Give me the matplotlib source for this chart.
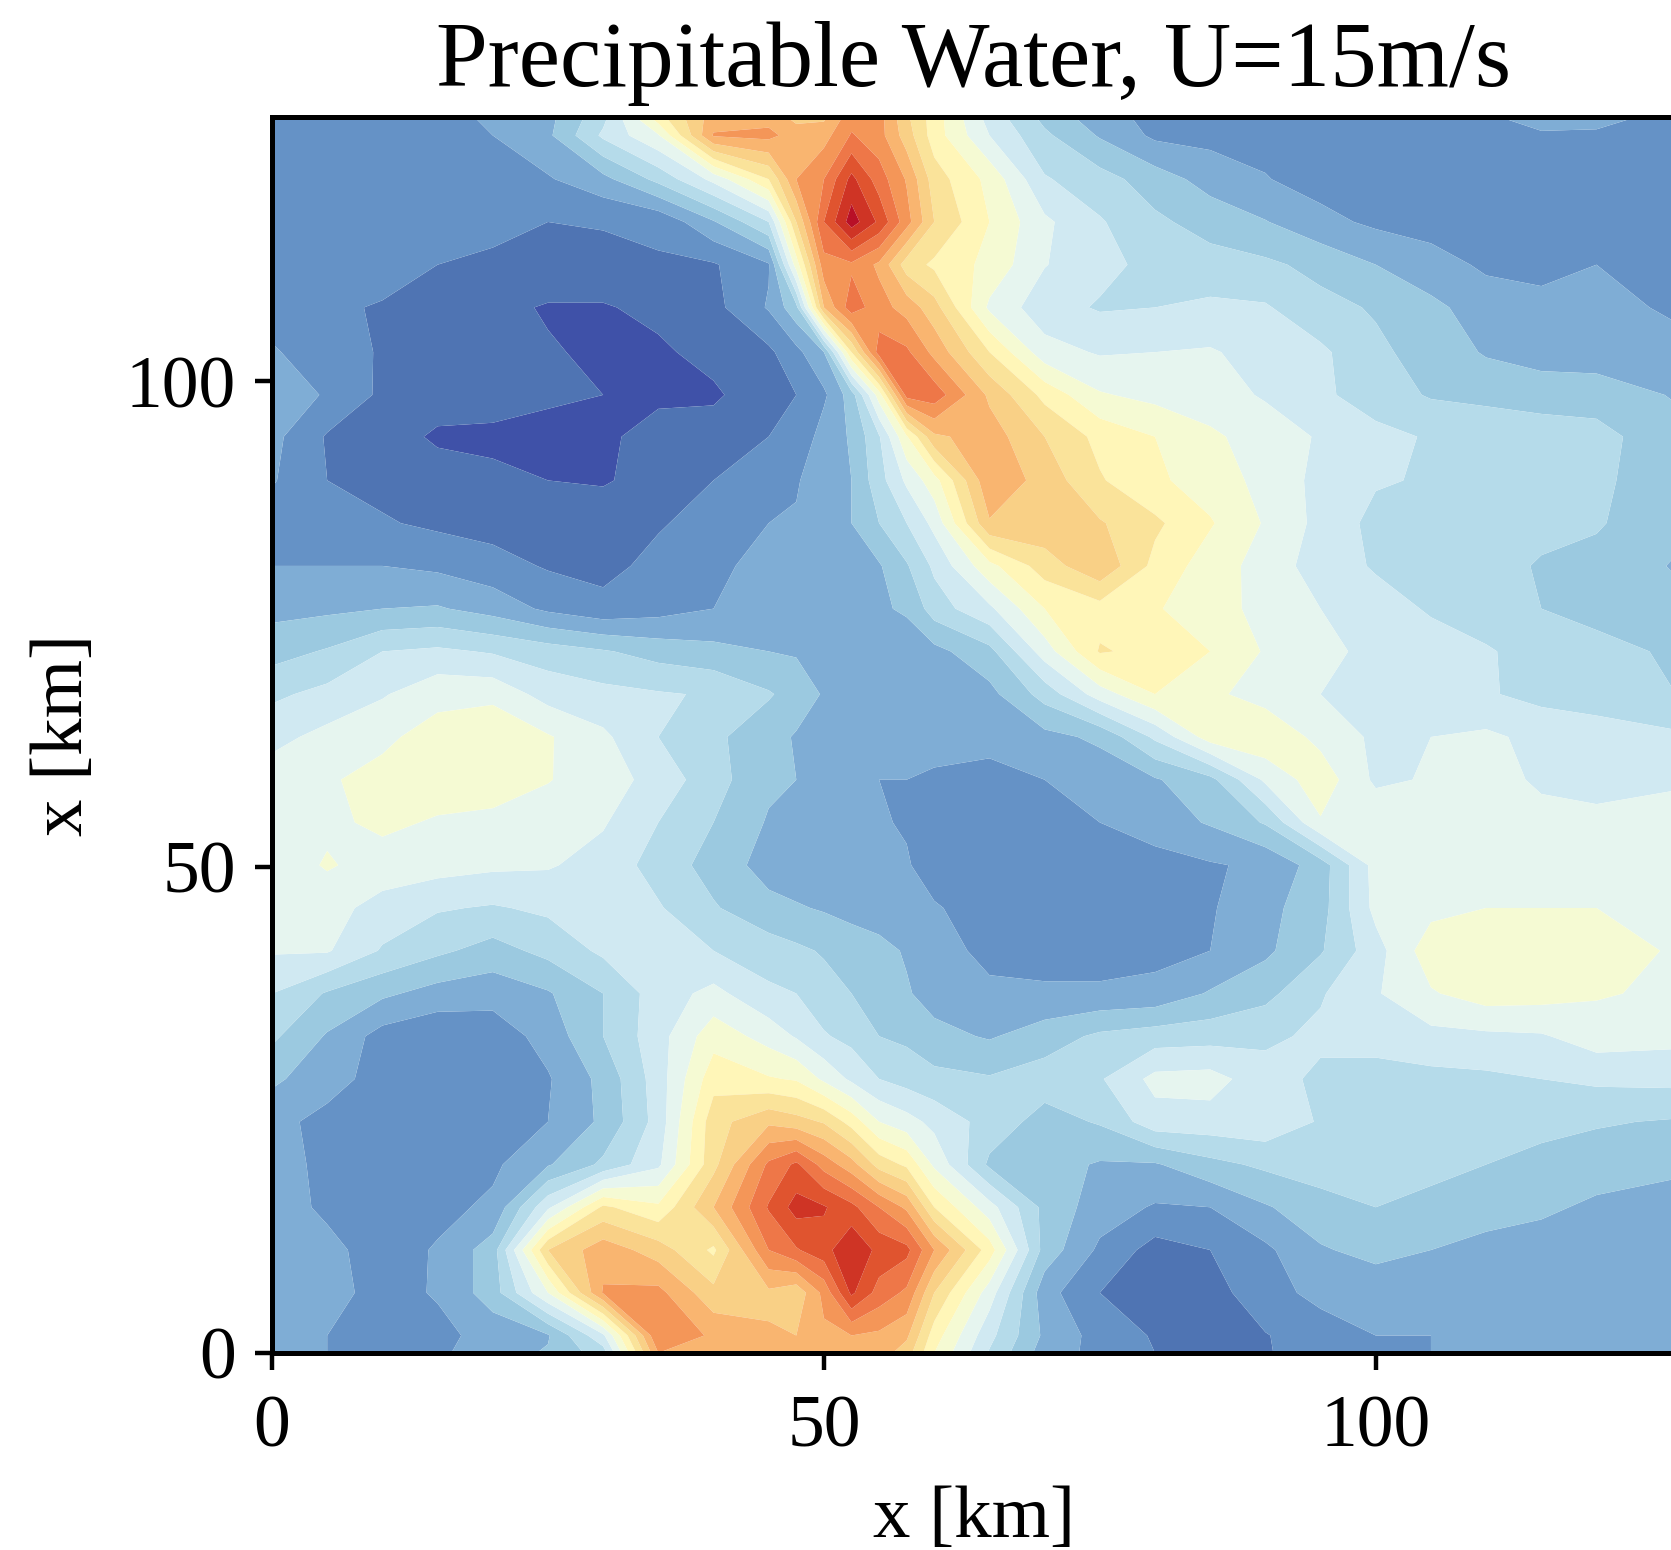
import numpy as np
import matplotlib
matplotlib.use("Agg")
import matplotlib.pyplot as plt

plt.rcParams['font.family'] = ['Liberation Serif', 'DejaVu Serif']

# km positions of the values
x_km = [0, 5, 10, 15, 20, 25, 30, 35, 40, 45, 47.5, 50, 52.5, 55, 57.5, 60, 65, 70, 75, 80, 85, 90, 95, 100, 105, 110, 115, 120, 127.2]
y_km = [127.2, 125.3, 120.8, 116.4, 112, 107.6, 103, 98.6, 94.3, 89.8, 85.4, 81, 76.6, 72.2, 67.8, 63.4,
        59, 54.6, 50.2, 45.8, 41.4, 37, 32.6, 28.2, 23.8, 19.4, 15, 10.6, 6.2, 1.8, 0]

# precipitable water, in colour band units, top row first
pw = [
    [2.7, 2.7, 2.7, 2.8, 3.1, 3.7, 5.7, 9.6, 12.5, 12.6, 11.7, 11.8, 13.6, 13.4, 11.2, 9.5, 6.6, 4.7, 3.4, 2.7, 2.6, 1.95, 2.6, 2.7, 2.8, 2.9, 3.3, 3.2, 2.8],
    [2.6, 2.6, 2.6, 2.7, 3.0, 3.8, 6.2, 7.9, 13.1, 13.3, 12.5, 12.6, 14.1, 13.4, 11.5, 9.5, 7.0, 5.2, 3.9, 2.8, 2.7, 2.7, 2.7, 2.7, 2.7, 2.9, 2.9, 2.9, 2.7],
    [2.5, 2.5, 2.5, 2.5, 2.6, 2.9, 3.7, 5.3, 7.3, 10.0, 13.0, 14.0, 16.3, 14.5, 12.9, 10.5, 8.7, 6.1, 5.4, 4.5, 3.6, 3.05, 2.6, 2.6, 2.6, 2.6, 2.6, 2.6, 2.6],
    [2.5, 2.3, 2.2, 2.4, 2.15, 2.0, 2.05, 2.2, 3.9, 6.0, 11.0, 15.0, 17.5, 15.8, 13.4, 11.0, 9.0, 7.2, 6.1, 5.2, 4.6, 4.05, 3.3, 2.8, 2.5, 2.5, 2.5, 2.6, 2.6],
    [2.6, 2.6, 2.5, 2.0, 1.9, 1.8, 1.8, 1.9, 1.9, 2.9, 8.5, 13.6, 13.8, 12.8, 10.5, 9.8, 8.7, 7.05, 6.3, 5.7, 5.4, 5.2, 4.7, 4.0, 3.5, 2.8, 2.7, 3.0, 3.0],
    [2.6, 2.2, 1.9, 1.6, 1.3, 0.9, 0.9, 1.3, 1.7, 3.1, 4.7, 12.0, 14.6, 13.4, 12.6, 11.4, 7.8, 6.4, 5.9, 6.0, 6.2, 6.1, 5.3, 4.9, 4.2, 3.6, 3.3, 3.2, 2.9],
    [3.1, 2.5, 1.9, 1.6, 1.4, 1.1, 0.8, 0.8, 1.4, 1.8, 2.7, 4.0, 10.0, 14.5, 14.2, 12.7, 10.0, 7.4, 6.9, 7.0, 7.1, 6.6, 6.2, 5.2, 4.6, 3.9, 3.6, 3.4, 3.2],
    [3.6, 2.9, 1.8, 1.3, 1.2, 1.2, 1.0, 0.9, 0.8, 1.8, 2.0, 2.8, 4.5, 8.5, 14.4, 14.6, 11.8, 9.7, 8.1, 7.7, 7.4, 6.9, 6.2, 5.5, 4.9, 4.7, 4.5, 4.6, 3.9],
    [3.3, 1.9, 1.3, 0.9, 0.9, 0.6, 0.9, 1.2, 1.6, 2.0, 2.1, 3.5, 4.1, 5.9, 8.9, 11.8, 12.5, 11.0, 9.7, 9.0, 8.2, 7.5, 6.9, 6.3, 5.9, 5.8, 5.6, 5.3, 4.4],
    [3.1, 2.0, 1.7, 1.3, 1.1, 1.0, 0.9, 1.4, 2.0, 2.7, 2.9, 3.6, 4.0, 5.6, 7.2, 8.6, 12.8, 11.6, 10.1, 9.2, 8.5, 7.7, 6.7, 6.1, 5.9, 6.0, 5.6, 5.2, 4.4],
    [2.5, 2.3, 2.1, 1.8, 1.6, 1.5, 1.6, 1.9, 2.4, 3.0, 3.1, 3.7, 4.0, 5.0, 6.0, 7.3, 11.9, 11.7, 11.1, 10.2, 9.1, 7.9, 6.7, 5.7, 5.5, 5.4, 5.3, 5.1, 4.3],
    [3.0, 3.0, 3.0, 2.8, 2.4, 1.9, 1.7, 2.3, 2.8, 3.3, 3.5, 3.6, 3.7, 3.9, 4.9, 6.2, 8.7, 10.5, 11.8, 9.7, 8.5, 7.6, 6.5, 5.9, 5.6, 5.4, 4.9, 4.7, 3.9],
    [3.7, 3.8, 4.0, 4.1, 3.6, 2.8, 2.3, 2.6, 3.0, 3.5, 3.6, 3.7, 3.8, 3.9, 4.1, 5.5, 6.8, 9.0, 9.6, 9.1, 8.4, 7.7, 7.0, 6.4, 5.9, 5.5, 5.0, 4.8, 4.3],
    [4.6, 5.1, 6.0, 6.2, 5.9, 5.5, 5.1, 4.6, 4.3, 4.0, 3.9, 3.6, 3.6, 3.6, 3.6, 3.7, 4.7, 7.5, 10.1, 9.7, 9.0, 7.9, 7.3, 6.7, 6.4, 6.1, 5.6, 5.2, 4.9],
    [5.8, 6.3, 6.9, 7.7, 7.7, 6.6, 6.3, 6.1, 5.9, 5.1, 4.6, 3.9, 3.7, 3.5, 3.4, 3.5, 3.7, 5.4, 7.5, 9.0, 8.2, 7.6, 7.0, 6.7, 6.5, 6.1, 5.7, 5.4, 5.0],
    [6.7, 7.3, 7.8, 8.4, 8.9, 8.1, 7.2, 6.0, 5.2, 4.4, 3.9, 3.6, 3.5, 3.6, 3.4, 3.5, 3.4, 3.7, 4.2, 6.2, 8.5, 8.8, 7.7, 6.8, 7.0, 7.2, 6.7, 6.6, 6.2],
    [7.5, 7.9, 8.3, 8.5, 8.6, 8.05, 7.5, 6.6, 5.4, 4.2, 4.0, 3.4, 3.2, 3.0, 3.0, 2.8, 2.6, 3.0, 3.4, 3.9, 4.7, 7.2, 8.6, 6.8, 7.1, 7.5, 6.8, 6.6, 6.8],
    [7.6, 7.8, 8.2, 7.9, 7.7, 7.5, 7.1, 6.0, 5.0, 3.9, 3.6, 3.5, 3.2, 3.1, 2.9, 2.6, 2.5, 2.6, 3.0, 3.5, 4.1, 5.1, 7.9, 7.8, 7.7, 7.6, 7.4, 7.3, 7.6],
    [7.4, 8.1, 7.6, 7.4, 7.2, 7.1, 6.6, 5.6, 4.6, 3.6, 3.4, 3.3, 3.0, 3.0, 3.1, 2.5, 2.4, 2.3, 2.4, 2.6, 2.9, 3.2, 4.5, 7.4, 7.8, 7.9, 7.8, 7.8, 7.8],
    [7.6, 7.4, 6.6, 6.1, 5.9, 6.2, 6.5, 6.1, 5.1, 4.3, 4.1, 3.9, 3.7, 3.5, 3.2, 3.1, 2.5, 2.3, 2.2, 2.1, 2.9, 3.7, 4.6, 7.3, 7.7, 8.0, 8.0, 8.0, 7.9],
    [7.1, 7.1, 5.9, 5.2, 4.6, 5.3, 6.2, 6.2, 6.0, 5.5, 5.2, 4.9, 4.5, 4.3, 3.9, 3.6, 2.6, 2.5, 2.5, 2.7, 3.0, 3.8, 4.9, 6.6, 8.6, 8.5, 8.4, 8.4, 7.9],
    [6.0, 4.9, 4.2, 3.6, 3.4, 3.9, 5.0, 6.5, 7.3, 6.2, 6.0, 5.4, 5.0, 4.7, 4.1, 3.6, 3.3, 3.2, 3.2, 3.3, 4.1, 4.7, 5.9, 6.9, 7.9, 8.5, 8.4, 8.1, 7.8],
    [5.2, 3.9, 2.6, 2.2, 2.4, 3.4, 5.0, 6.6, 8.6, 7.6, 6.9, 6.1, 5.7, 5.0, 4.8, 4.3, 3.9, 4.5, 5.2, 5.5, 5.6, 5.8, 6.2, 6.4, 6.7, 6.8, 6.9, 7.5, 7.3],
    [4.2, 3.4, 2.6, 2.3, 2.4, 2.9, 4.3, 6.5, 9.6, 9.1, 8.9, 7.8, 6.8, 6.0, 5.6, 5.3, 5.1, 5.5, 5.9, 7.3, 7.4, 6.4, 5.8, 5.6, 5.7, 5.8, 6.0, 6.2, 6.3],
    [3.3, 2.7, 2.5, 2.3, 2.4, 3.0, 4.2, 6.4, 10.6, 11.8, 11.4, 10.9, 9.6, 8.0, 7.4, 6.7, 5.6, 4.6, 5.1, 6.6, 6.6, 6.7, 5.9, 5.5, 5.5, 5.4, 5.3, 5.1, 4.9],
    [3.5, 2.7, 2.5, 2.4, 2.8, 3.9, 5.2, 6.8, 10.7, 14.2, 15.2, 13.6, 12.4, 10.6, 9.8, 7.8, 4.8, 4.4, 3.9, 3.9, 4.7, 5.2, 5.5, 5.5, 5.3, 5.0, 4.7, 4.5, 4.2],
    [3.5, 2.8, 2.5, 2.7, 3.2, 6.8, 10.2, 9.2, 12.0, 15.1, 16.4, 16.1, 15.3, 14.0, 12.8, 10.0, 7.4, 4.7, 3.5, 2.9, 3.0, 3.9, 4.6, 5.0, 4.7, 4.4, 4.2, 3.8, 3.6],
    [3.6, 3.3, 2.5, 3.1, 4.5, 11.0, 12.6, 11.5, 9.8, 14.0, 14.9, 15.6, 16.9, 15.7, 15.3, 13.0, 9.5, 4.6, 2.8, 1.6, 2.0, 2.8, 3.9, 4.3, 4.0, 3.7, 3.5, 3.4, 3.3],
    [3.5, 3.4, 2.6, 3.1, 4.5, 8.0, 13.1, 13.3, 11.3, 11.8, 11.3, 13.3, 16.2, 14.6, 13.8, 11.0, 7.5, 3.4, 2.0, 1.0, 1.6, 2.6, 3.3, 3.4, 3.4, 3.4, 3.4, 3.4, 3.5],
    [3.4, 3.0, 2.5, 2.7, 3.4, 3.9, 6.8, 14.0, 12.8, 12.1, 12.0, 12.8, 13.0, 12.8, 12.2, 9.5, 6.3, 3.8, 2.6, 1.9, 1.8, 1.95, 2.5, 3.0, 3.0, 3.3, 3.4, 3.4, 3.5],
    [3.4, 3.0, 2.6, 2.8, 3.6, 4.1, 5.5, 13.0, 13.0, 12.2, 12.1, 12.9, 12.9, 12.5, 11.5, 9.0, 5.9, 3.5, 2.7, 2.0, 1.8, 1.9, 2.6, 2.9, 3.0, 3.4, 3.4, 3.4, 3.5],
]

band_edges = list(range(0, 19))
band_colors = ['#3f51a8', '#4f74b3', '#6592c6', '#7fadd5', '#9bc9e0', '#b5dbea', '#d0e9f2', '#e6f5ef', '#f5fad3',
               '#fff6b8', '#fae39a', '#f9d086', '#f9b570', '#f49658', '#ee7748', '#e0542f', '#cf3425', '#b81027']
x_ticks = [0, 50, 100]
y_ticks = [0, 50, 100]

W, H = 1671, 1550
fig = plt.figure(figsize=(W / 100, H / 100), dpi=100)
ax = fig.add_axes([272 / W, 1 - 1353 / H, (1676 - 272) / W, (1353 - 117) / H])

ax.contourf(x_km, y_km[::-1], np.array(pw)[::-1], levels=band_edges, colors=band_colors, antialiased=True)
ax.set_xlim(0, 127.2)
ax.set_ylim(0, 127.2)
ax.set_xticks(x_ticks)
ax.set_yticks(y_ticks)
ax.tick_params(labelsize=53, length=12, width=3.2)
ax.tick_params(axis='x', pad=18)
ax.tick_params(axis='y', pad=14)
for spine in ax.spines.values():
    spine.set_linewidth(3.6)

ax.set_title('Precipitable Water, U=15m/s', fontsize=67, pad=22)
ax.set_xlabel('x [km]', fontsize=54, labelpad=17)
ax.set_ylabel('x [km]', fontsize=54, labelpad=20)

fig.savefig('out.png', dpi=100)
